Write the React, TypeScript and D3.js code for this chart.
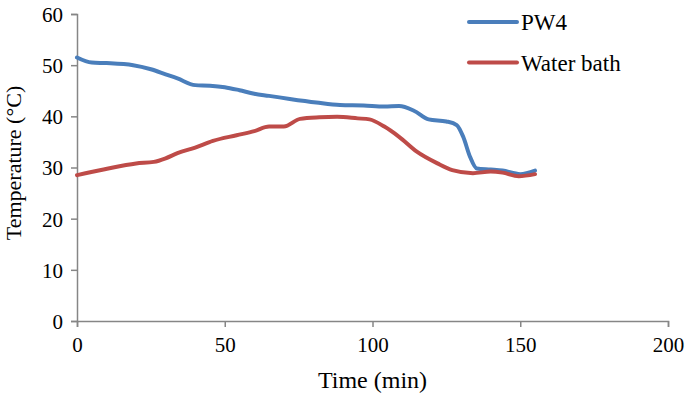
import { useRef, useEffect } from 'react';
import * as d3 from 'd3';

// values
const pw4Time = [0, 5, 10, 19, 25, 30, 34, 40, 45, 50, 55, 60, 65, 72, 81, 89, 97, 104, 109, 114, 119, 125, 128.5, 130.7, 133, 135.3, 140, 144, 150, 155];
const pw4Temp = [51.5, 50.5, 50.4, 50.0, 49.2, 48.2, 47.4, 46.1, 46.0, 45.7, 45.1, 44.4, 44.0, 43.4, 42.7, 42.2, 42.1, 41.9, 42.0, 41.1, 39.4, 39.0, 38.3, 36.0, 32.1, 29.8, 29.6, 29.4, 28.7, 29.4];

const bathTime = [0, 9, 20, 26, 30, 34, 40, 46, 54, 60, 65, 70, 75.5, 82, 88, 95, 99, 104, 109, 115, 122, 127, 134, 140, 144, 149.5, 155];
const bathTemp = [28.5, 29.6, 30.8, 31.1, 31.8, 32.8, 33.9, 35.2, 36.3, 37.1, 38.0, 38.0, 39.5, 39.8, 39.9, 39.6, 39.4, 38.0, 36.0, 33.1, 30.8, 29.5, 28.9, 29.2, 29.0, 28.3, 28.7];

const xTicks = [0, 50, 100, 150, 200];
const yTicks = [0, 10, 20, 30, 40, 50, 60];

const series = [
  { name: 'PW4', color: '#4a7ebb', time: pw4Time, temp: pw4Temp },
  { name: 'Water bath', color: '#be4b48', time: bathTime, temp: bathTemp },
];

const width = 685;
const height = 400;
const margin = { top: 14, right: 17, bottom: 79, left: 77 };
const font = 'Liberation Serif';

export default function App() {
  const ref = useRef<SVGSVGElement>(null);

  useEffect(() => {
    if (!ref.current) return;
    const svg = d3.select(ref.current);
    svg.selectAll('*').remove();

    const innerWidth = width - margin.left - margin.right;
    const innerHeight = height - margin.top - margin.bottom;

    const x = d3.scaleLinear().domain([0, 200]).range([0, innerWidth]);
    const y = d3.scaleLinear().domain([0, 60]).range([innerHeight, 0]);

    const g = svg
      .append('g')
      .attr('transform', `translate(${margin.left},${margin.top})`);

    // axes
    const xAxis = g
      .append('g')
      .attr('transform', `translate(0,${innerHeight})`)
      .call(d3.axisBottom(x).tickValues(xTicks).tickSize(6).tickPadding(10));
    const yAxis = g
      .append('g')
      .call(d3.axisLeft(y).tickValues(yTicks).tickSize(6).tickPadding(8));

    [xAxis, yAxis].forEach((a) => {
      a.attr('font-family', font).attr('font-size', 21);
      a.selectAll('path, line').attr('stroke', '#868686').attr('stroke-width', 1.5);
      a.selectAll('text').attr('fill', '#000');
    });
    yAxis.selectAll('text').attr('dy', '0.35em');

    // lines
    series.forEach((s) => {
      const pts = s.time.map((t, i) => [t, s.temp[i]] as [number, number]);
      const line = d3
        .line<[number, number]>()
        .x((d) => x(d[0]))
        .y((d) => y(d[1]))
        .curve(d3.curveMonotoneX);
      g.append('path')
        .datum(pts)
        .attr('fill', 'none')
        .attr('stroke', s.color)
        .attr('stroke-width', 4)
        .attr('stroke-linejoin', 'round')
        .attr('stroke-linecap', 'round')
        .attr('d', line);
    });

    // legend
    series.forEach((s, i) => {
      const ly = 22 + i * 40.5;
      svg
        .append('line')
        .attr('x1', 469)
        .attr('x2', 517)
        .attr('y1', ly)
        .attr('y2', ly)
        .attr('stroke', s.color)
        .attr('stroke-width', 4)
        .attr('stroke-linecap', 'round');
      svg
        .append('text')
        .attr('x', 521)
        .attr('y', ly + 8)
        .attr('font-family', font)
        .attr('font-size', 23)
        .text(s.name);
    });

    // axis titles
    svg
      .append('text')
      .attr('x', margin.left + innerWidth / 2)
      .attr('y', 388)
      .attr('text-anchor', 'middle')
      .attr('font-family', font)
      .attr('font-size', 24)
      .text('Time (min)');

    svg
      .append('text')
      .attr('transform', 'rotate(-90)')
      .attr('x', -163)
      .attr('y', 21)
      .attr('text-anchor', 'middle')
      .attr('font-family', font)
      .attr('font-size', 22)
      .text('Temperature (°C)');
  }, []);

  return (
    <svg
      ref={ref}
      width={width}
      height={height}
      style={{ position: 'absolute', left: 0, top: 0, background: '#fff' }}
    />
  );
}
